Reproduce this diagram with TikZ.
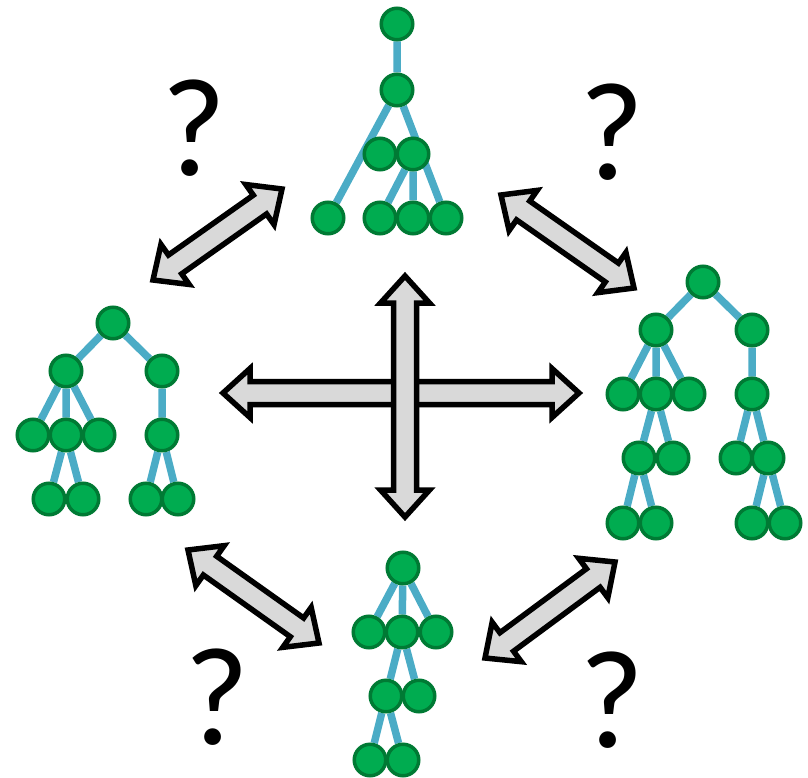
\documentclass[tikz,border=0pt]{standalone}
\usepackage{fontspec}
\newfontfamily\qfont{Carlito}
\usetikzlibrary{calc,backgrounds}

\definecolor{LeafGreen}{RGB}{0,172,80}
\definecolor{LeafDark}{RGB}{0,122,52}
\definecolor{BranchBlue}{RGB}{75,172,198}
\definecolor{ArrowGrey}{RGB}{217,217,217}

\tikzset{
  leaf/.style={circle, draw=LeafDark, fill=LeafGreen, line width=3.5pt, minimum size=31.5pt, inner sep=0pt},
  branch/.style={BranchBlue, line width=7.5pt},
  quest/.style={font=\qfont\fontsize{140}{140}\selectfont, inner sep=0pt},
  blockarrow/.style={draw=black, fill=ArrowGrey, line width=5.5pt, to path={
      -- ($(\tikztostart)!27pt!(\tikztotarget)!24.5pt!90:(\tikztotarget)$)
      -- ($(\tikztostart)!27pt!(\tikztotarget)!11.5pt!90:(\tikztotarget)$)
      -- ($(\tikztotarget)!27pt!(\tikztostart)!11.5pt!-90:(\tikztostart)$)
      -- ($(\tikztotarget)!27pt!(\tikztostart)!24.5pt!-90:(\tikztostart)$)
      -- (\tikztotarget)
      -- ($(\tikztotarget)!27pt!(\tikztostart)!24.5pt!90:(\tikztostart)$)
      -- ($(\tikztotarget)!27pt!(\tikztostart)!11.5pt!90:(\tikztostart)$)
      -- ($(\tikztostart)!27pt!(\tikztotarget)!11.5pt!-90:(\tikztotarget)$)
      -- ($(\tikztostart)!27pt!(\tikztotarget)!24.5pt!-90:(\tikztotarget)$)
      -- cycle}}
}

\begin{document}
\begin{tikzpicture}[x=1pt, y=-1pt]
  \useasboundingbox (0,0) rectangle (808,778);

  % Top tree
  \node[leaf] (t1) at (397,24) {};
  \node[leaf] (t2) at (397,90) {};
  \node[leaf] (t3) at (380,154) {};
  \node[leaf] (t4) at (413,154) {};
  \node[leaf] (t5) at (328,218) {};
  \node[leaf] (t6) at (380,218) {};
  \node[leaf] (t7) at (413,218) {};
  \node[leaf] (t8) at (446,218) {};

  % Left tree
  \node[leaf] (l1) at (113,323) {};
  \node[leaf] (l2) at (66,371) {};
  \node[leaf] (l3) at (162,371) {};
  \node[leaf] (l4) at (33,435) {};
  \node[leaf] (l5) at (66,435) {};
  \node[leaf] (l6) at (99,435) {};
  \node[leaf] (l7) at (162,435) {};
  \node[leaf] (l8) at (49,499) {};
  \node[leaf] (l9) at (83,499) {};
  \node[leaf] (l10) at (146,499) {};
  \node[leaf] (l11) at (178,499) {};

  % Right tree
  \node[leaf] (r1) at (703,282) {};
  \node[leaf] (r2) at (656,330) {};
  \node[leaf] (r3) at (752,330) {};
  \node[leaf] (r4) at (623,394) {};
  \node[leaf] (r5) at (656,394) {};
  \node[leaf] (r6) at (689,394) {};
  \node[leaf] (r7) at (752,394) {};
  \node[leaf] (r8) at (639,458) {};
  \node[leaf] (r9) at (673,458) {};
  \node[leaf] (r10) at (736,458) {};
  \node[leaf] (r11) at (768,458) {};
  \node[leaf] (r12) at (623,523) {};
  \node[leaf] (r13) at (656,523) {};
  \node[leaf] (r14) at (752,523) {};
  \node[leaf] (r15) at (785,523) {};

  % Bottom tree
  \node[leaf] (b1) at (403,568) {};
  \node[leaf] (b2) at (369,632) {};
  \node[leaf] (b3) at (402,632) {};
  \node[leaf] (b4) at (436,632) {};
  \node[leaf] (b5) at (386,696) {};
  \node[leaf] (b6) at (419,696) {};
  \node[leaf] (b7) at (370,760) {};
  \node[leaf] (b8) at (403,760) {};

  % Branches behind the leaves
  \begin{scope}[on background layer]
    \draw[branch] (t1) -- (t2) (t2) -- (t5) (t2) -- (t8) (t4) -- (t6) (t4) -- (t7);
    \draw[branch] (l1) -- (l2) (l1) -- (l3) (l2) -- (l4) (l2) -- (l5) (l2) -- (l6)
      (l3) -- (l7) (l5) -- (l8) (l5) -- (l9) (l7) -- (l10) (l7) -- (l11);
    \draw[branch] (r1) -- (r2) (r1) -- (r3) (r2) -- (r4) (r2) -- (r5) (r2) -- (r6)
      (r3) -- (r7) (r5) -- (r8) (r5) -- (r9) (r7) -- (r10) (r7) -- (r11)
      (r8) -- (r12) (r8) -- (r13) (r11) -- (r14) (r11) -- (r15);
    \draw[branch] (b1) -- (b2) (b1) -- (b3) (b1) -- (b4) (b3) -- (b5) (b3) -- (b6)
      (b5) -- (b7) (b5) -- (b8);
  \end{scope}

  % Arrow ends
  \coordinate (hw) at (223,393);
  \coordinate (he) at (579,393);
  \coordinate (vn) at (405,276);
  \coordinate (vs) at (405,517);
  \coordinate (ulA) at (153,280);
  \coordinate (ulB) at (282,189);
  \coordinate (urA) at (501,195);
  \coordinate (urB) at (634,288);
  \coordinate (llA) at (188,550);
  \coordinate (llB) at (319,643);
  \coordinate (lrA) at (485,658);
  \coordinate (lrB) at (615,562);

  % Block arrows
  \draw[blockarrow] (hw) to (he);
  \draw[blockarrow] (vn) to (vs);
  \draw[blockarrow] (ulA) to (ulB);
  \draw[blockarrow] (urA) to (urB);
  \draw[blockarrow] (llA) to (llB);
  \draw[blockarrow] (lrA) to (lrB);

  % Question marks
  \node[quest] (qul) at (194,128) {?};
  \node[quest] (qur) at (612,132) {?};
  \node[quest] (qll) at (217,697) {?};
  \node[quest] (qlr) at (612,700) {?};
\end{tikzpicture}
\end{document}
